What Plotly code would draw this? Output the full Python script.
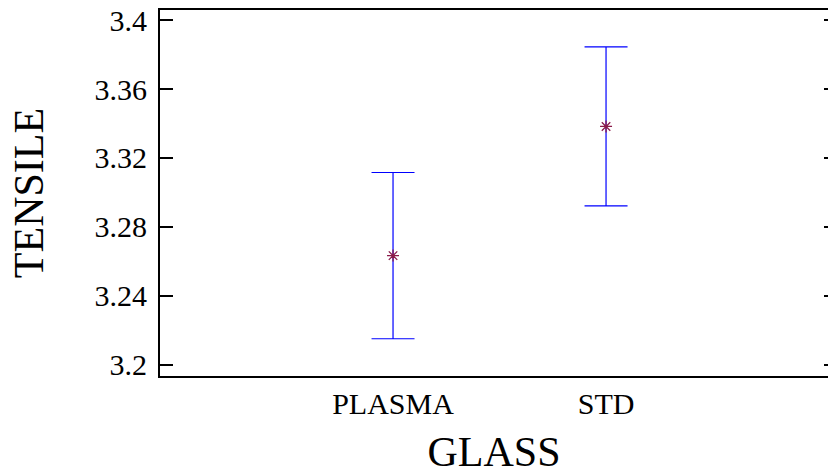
import plotly.graph_objects as go

categories = ["PLASMA", "STD"]
means = [3.2634, 3.3383]
half_widths = [0.0482, 0.0461]
y_ticks = [3.2, 3.24, 3.28, 3.32, 3.36, 3.4]
y_tick_labels = ["3.2", "3.24", "3.28", "3.32", "3.36", "3.4"]

FONT = "Liberation Serif, Times New Roman, serif"
y_range = [3.1936, 3.4058]

fig = go.Figure()
fig.add_trace(go.Scatter(
    x=categories, y=means, mode="markers",
    marker=dict(symbol="asterisk-open", size=10, color="#8b1a4a",
                line=dict(color="#8b1a4a", width=1.3)),
    error_y=dict(type="data", array=half_widths, symmetric=True,
                 color="#0000ff", thickness=1.2, width=21.5),
    showlegend=False,
))
# invisible trace to carry the right-side tick axis
fig.add_trace(go.Scatter(x=categories, y=means, yaxis="y2", mode="markers",
                         marker=dict(opacity=0), showlegend=False, hoverinfo="skip"))

fig.update_layout(
    width=828, height=475,
    margin=dict(l=160, r=0, t=10, b=99),
    paper_bgcolor="white", plot_bgcolor="white",
    font=dict(family=FONT, color="black"),
    xaxis=dict(
        type="category", range=[-1.094, 2.042],
        showline=True, linecolor="black", linewidth=2, mirror=True,
        ticks="", showgrid=False, zeroline=False,
        tickfont=dict(size=30, family=FONT),
        title=dict(text="GLASS", font=dict(size=42, family=FONT), standoff=27),
    ),
    yaxis=dict(
        range=y_range, tickvals=y_ticks, ticktext=y_tick_labels,
        showline=True, linecolor="black", linewidth=2, mirror=False,
        ticks="inside", ticklen=13, tickwidth=1.5, tickcolor="black",
        ticklabelstandoff=5,
        showgrid=False, zeroline=False,
        tickfont=dict(size=30, family=FONT),
        title=dict(text="TENSILE", font=dict(size=42, family=FONT), standoff=38),
    ),
    yaxis2=dict(
        range=y_range, tickvals=y_ticks, overlaying="y", side="right",
        anchor="free", position=1, showline=False, showticklabels=False,
        ticks="inside", ticklen=4, tickwidth=1.5, tickcolor="black",
        showgrid=False, zeroline=False,
    ),
)

fig.write_html(
    "out.html",
    config={"displayModeBar": False},
    post_script="document.body.style.margin='0';document.body.style.overflow='hidden';",
)
